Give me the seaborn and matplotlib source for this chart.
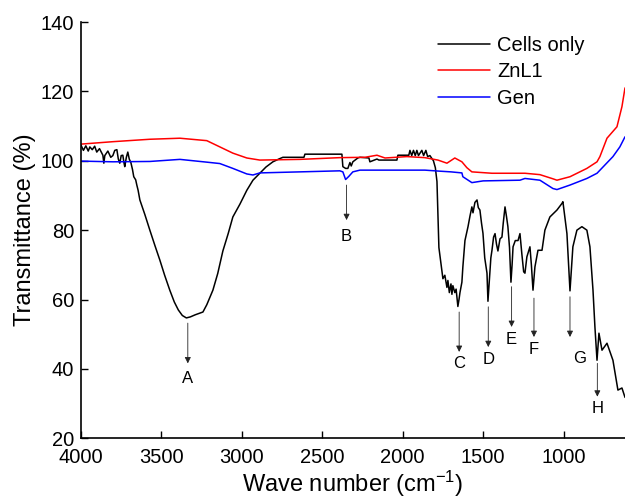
import matplotlib
matplotlib.use("Agg")
import matplotlib.pyplot as plt
import pandas as pd
import seaborn as sns

# ---------------- data ----------------
cells_wn = [4000, 3985, 3970, 3955, 3945, 3930, 3915, 3902, 3885, 3864, 3858, 3852, 3833, 3815,
            3802, 3790, 3777, 3768, 3759, 3750, 3740, 3733, 3728, 3718, 3709, 3700, 3690, 3680,
            3672, 3660, 3653, 3645, 3634, 3603, 3572, 3540, 3510, 3480, 3448, 3420, 3395, 3370,
            3345, 3320, 3290, 3242, 3218, 3180, 3150, 3118, 3085, 3056, 3012, 2969, 2931, 2888, 2850,
            2807, 2770, 2745, 2614, 2608, 2378, 2372, 2355, 2341, 2328, 2320, 2310, 2279, 2266,
            2210, 2204, 2160, 2148, 2036, 2030, 1962, 1955, 1944, 1933, 1922, 1912, 1902, 1881,
            1870, 1856, 1845, 1831, 1809, 1797, 1787, 1781, 1775, 1756, 1750, 1738, 1725, 1719,
            1710, 1700, 1694, 1688, 1676, 1668, 1657, 1650, 1644, 1632, 1626, 1613, 1594, 1582,
            1570, 1563, 1551, 1538, 1530, 1520, 1510, 1501, 1490, 1476, 1470, 1462, 1452, 1445,
            1435, 1426, 1417, 1408, 1395, 1383, 1375, 1364, 1355, 1346, 1336, 1327, 1320, 1314,
            1300, 1283, 1271, 1259, 1248, 1240, 1228, 1209, 1200, 1190, 1184, 1178, 1159, 1134,
            1116, 1085, 1041, 1010, 1004, 979, 960, 942, 917, 886, 855, 836, 817, 805, 792, 780,
            761, 730, 693, 662, 637, 618]
cells_t = [104.5, 103.0, 104.3, 102.8, 104.0, 103.2, 104.2, 102.5, 103.5, 101.6, 99.3, 101.5, 102.8, 101.0,
           101.5, 103.0, 103.2, 100.5, 99.3, 101.5, 101.6, 99.5, 98.3, 101.0, 102.5, 100.5, 99.5, 97.5,
           95.4, 94.5, 93.0, 91.5, 88.7, 84.5, 80.0, 75.5, 71.4, 67.0, 62.7, 59.3, 57.0, 55.4,
           54.7, 55.0, 55.6, 56.4, 58.5, 62.7, 67.5, 74.0, 79.0, 83.8, 87.5, 91.5, 94.4, 96.4, 98.2,
           99.7, 100.5, 101.0, 101.0, 101.9, 101.9, 98.3, 97.8, 97.8, 99.5, 98.5, 99.7, 100.8, 101.0,
           100.8, 99.7, 100.5, 100.2, 100.2, 101.6, 101.6, 103.0, 101.5, 103.0, 101.5, 103.0, 101.5, 103.0,
           101.5, 103.0, 101.2, 101.5, 100.0, 98.0, 94.0, 85.0, 75.0, 68.0, 66.0, 67.0, 63.5, 65.5,
           62.0, 64.5, 61.5, 64.0, 62.0, 63.0, 58.0, 60.0, 62.0, 65.0, 69.4, 77.0, 81.0, 84.0,
           86.7, 85.0, 88.0, 88.7, 86.5, 85.8, 82.0, 79.1, 72.0, 67.6, 59.5, 65.0, 72.0, 74.2,
           78.0, 79.0, 76.0, 74.0, 77.5, 78.0, 82.0, 86.7, 84.0, 81.0, 75.0, 65.0, 70.0, 75.2,
           77.0, 77.0, 79.0, 73.0, 68.0, 67.6, 72.3, 75.2, 70.0, 62.7, 66.0, 69.4, 74.2, 74.2,
           80.0, 83.8, 85.8, 87.7, 88.2, 79.0, 62.5, 75.2, 80.0, 81.0, 80.0, 75.2, 62.7, 52.1, 42.5, 50.3,
           45.4, 47.4, 42.5, 33.9, 34.5, 31.8]

znl1_wn = [4000, 3802, 3572, 3385, 3218, 3137, 3056, 2969, 2888, 2639, 2391, 2235, 2160, 2110,
           1974, 1862, 1781, 1725, 1676, 1632, 1601, 1570, 1445, 1240, 1147, 1066, 1041, 960,
           855, 792, 774, 730, 668, 637, 618]
znl1_t = [104.8, 105.5, 106.2, 106.5, 105.8, 104.0, 102.2, 100.8, 100.2, 100.4, 100.9, 101.0, 101.6, 100.8,
          101.2, 100.9, 100.2, 99.3, 100.8, 99.7, 98.0, 96.8, 96.4, 96.4, 96.0, 94.8, 94.4, 95.4,
          97.8, 99.7, 101.2, 106.5, 109.8, 115.6, 121.0]

gen_wn = [4000, 3802, 3572, 3385, 3218, 3137, 3056, 2969, 2931, 2888, 2639, 2391, 2372, 2355,
          2335, 2310, 2266, 1862, 1769, 1700, 1632, 1626, 1570, 1500, 1271, 1240, 1147, 1066,
          1041, 960, 855, 792, 693, 650, 618]
gen_t = [99.9, 99.7, 99.8, 100.4, 99.6, 99.2, 97.8, 96.2, 95.9, 96.5, 96.8, 97.1, 96.8, 94.6,
         95.5, 96.8, 97.3, 97.3, 97.0, 96.8, 96.5, 95.4, 93.7, 94.2, 94.4, 94.9, 94.4, 92.0,
         91.7, 93.0, 94.9, 96.4, 101.2, 104.0, 106.9]

series_names = ["Cells only", "ZnL1", "Gen"]
series_colors = ["#000000", "#ff0000", "#0000ff"]

peak_labels = ["A", "B", "C", "D", "E", "F", "G", "H"]
peak_wn = [3336, 2349, 1649, 1468, 1323, 1184, 960, 790]
arrow_start = [53.2, 93.0, 56.4, 57.9, 63.7, 60.4, 60.8, 41.6]
arrow_end = [41.6, 82.9, 44.9, 46.3, 52.1, 49.2, 49.2, 32.0]
label_wn = [3336, 2349, 1649, 1468, 1323, 1184, 898, 790]
label_t = [37.3, 78.3, 41.5, 42.8, 48.4, 45.6, 43.0, 28.5]

x_ticks = [4000, 3500, 3000, 2500, 2000, 1500, 1000]
y_ticks = [20, 40, 60, 80, 100, 120, 140]

# ---------------- style ----------------
sns.set_theme(style="ticks")
plt.rcParams["font.family"] = ["Liberation Sans", "DejaVu Sans"]
plt.rcParams["mathtext.fontset"] = "custom"
plt.rcParams["mathtext.rm"] = "Liberation Sans"
plt.rcParams["mathtext.it"] = "Liberation Sans:italic"
plt.rcParams["mathtext.bf"] = "Liberation Sans:bold"
for key in ["text.color", "axes.labelcolor", "xtick.color", "ytick.color", "axes.edgecolor"]:
    plt.rcParams[key] = "black"

fig = plt.figure(figsize=(6.25, 5), dpi=100)
ax = fig.add_axes([81 / 625, 1 - 438.3 / 500, (625 - 81) / 625, (438.3 - 22) / 500])

datasets = [(cells_wn, cells_t), (znl1_wn, znl1_t), (gen_wn, gen_t)]
for (wn, t), name, col in zip(datasets, series_names, series_colors):
    df = pd.DataFrame({"wn": wn, "T": t})
    sns.lineplot(data=df, x="wn", y="T", ax=ax, color=col, lw=1.1,
                 estimator=None, sort=False, label=name)

for lab, x, s, e, lx, ly in zip(peak_labels, peak_wn, arrow_start, arrow_end, label_wn, label_t):
    ax.annotate("", xy=(x, e), xytext=(x, s),
                arrowprops=dict(arrowstyle="-|>", color="#222222", lw=0.6,
                                mutation_scale=9, shrinkA=0, shrinkB=0))
    ax.text(lx, ly, lab, ha="center", va="center", fontsize=12, color="black")

ax.set_xlim(4000, 618)
ax.set_ylim(20, 140)
ax.set_xticks(x_ticks)
ax.set_yticks(y_ticks)
ax.tick_params(direction="in", length=4.8, width=1.0, labelsize=14.5, colors="black")
ax.tick_params(axis="y", pad=5)
ax.tick_params(axis="x", pad=7)
for side in ["top", "right"]:
    ax.spines[side].set_visible(False)
for side in ["left", "bottom"]:
    ax.spines[side].set_linewidth(1.2)
    ax.spines[side].set_color("black")

ax.set_xlabel("Wave number (cm$^{-1}$)", fontsize=17, labelpad=1)
ax.set_ylabel("Transmittance (%)", fontsize=17, labelpad=3)

leg = ax.legend(loc="upper left", bbox_to_anchor=(438 / 625, 1 - 36 / 500),
                bbox_transform=fig.transFigure, frameon=False, fontsize=14.5,
                handlelength=2.6, handletextpad=0.35, labelspacing=0.37,
                borderpad=0, borderaxespad=0)
for h in leg.get_lines():
    h.set_linewidth(1.1)
for txt in leg.get_texts():
    txt.set_color("black")

fig.savefig("out.png", dpi=100)
